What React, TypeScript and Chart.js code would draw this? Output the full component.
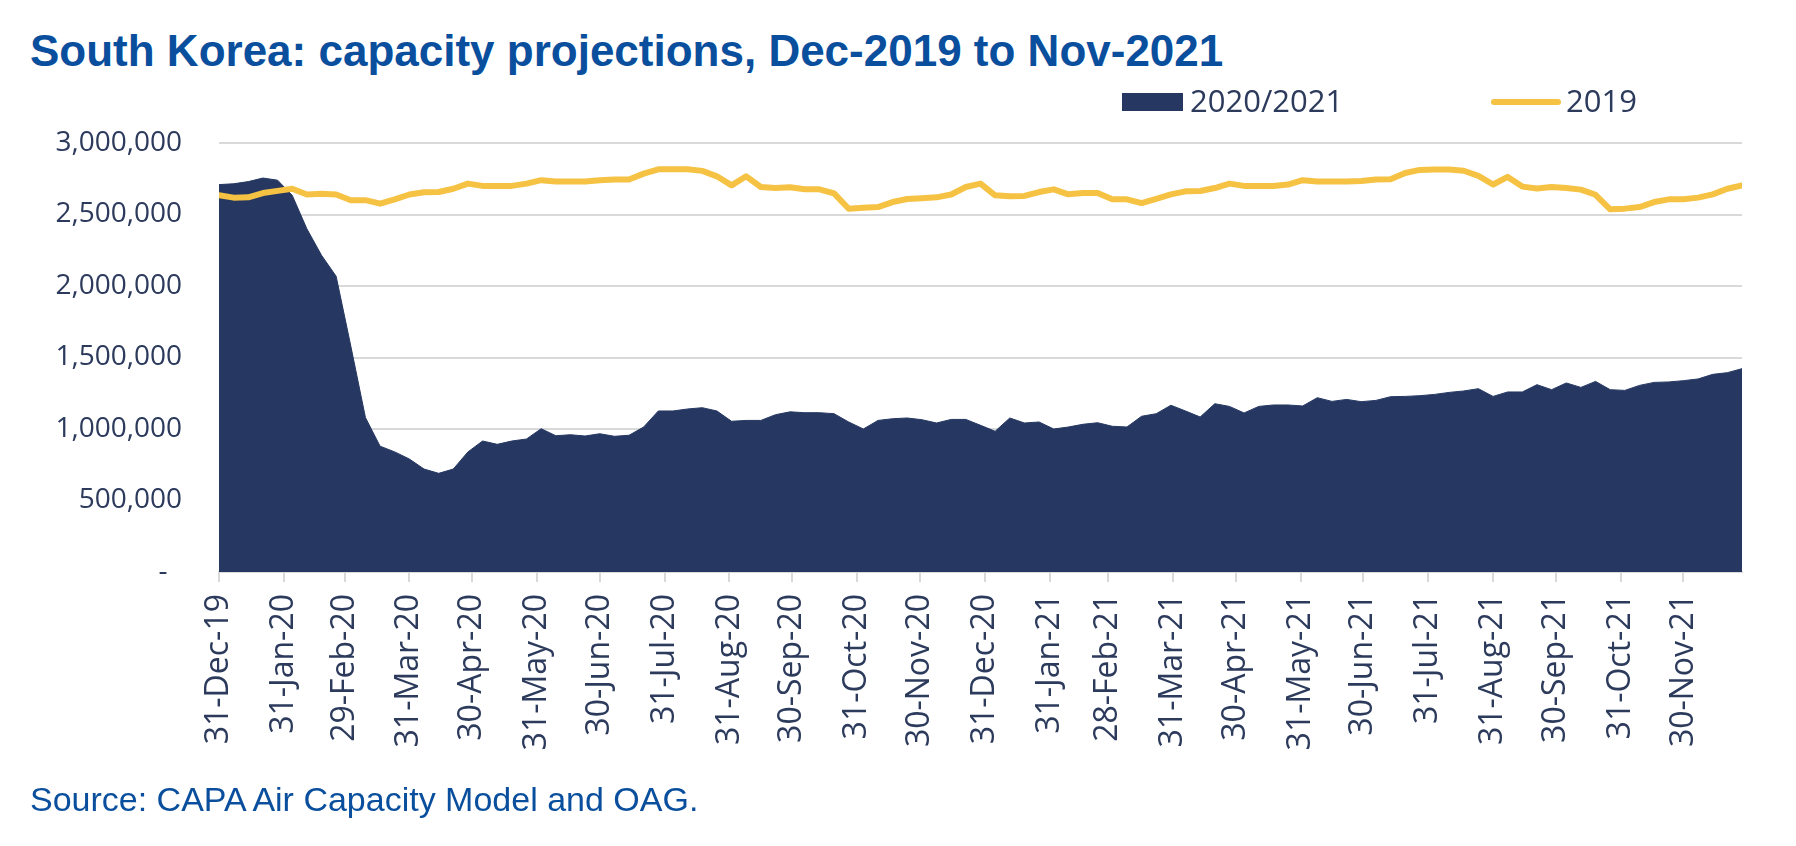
import React, { useEffect, useRef } from 'react';
import { Chart, registerables } from 'chart.js';

Chart.register(...registerables);

// ---------------- data ----------------
const START_LABEL = '31-Dec-19';
const DAYS_BETWEEN_POINTS = 7;

const seriesLabels = ['2020/2021', '2019'];

const capacity2020_21 = [
  2709000, 2715000, 2730000, 2755000, 2740000, 2634000, 2400000, 2215000, 2068000, 1580000,
  1080000, 880000, 840000, 790000, 720000, 690000, 720000, 840000, 916000, 893000,
  916000, 930000, 1002000, 953000, 960000, 951000, 967000, 949000, 956000, 1014000,
  1126000, 1126000, 1140000, 1149000, 1126000, 1054000, 1060000, 1060000, 1100000, 1120000,
  1114000, 1114000, 1107000, 1049000, 1000000, 1060000, 1072000, 1077000, 1065000, 1042000,
  1067000, 1067000, 1026000, 984000, 1077000, 1042000, 1049000, 1000000, 1014000, 1033000,
  1044000, 1019000, 1014000, 1089000, 1107000, 1166000, 1126000, 1084000, 1177000, 1158000,
  1112000, 1158000, 1168000, 1168000, 1161000, 1219000, 1193000, 1207000, 1191000, 1200000,
  1226000, 1228000, 1233000, 1242000, 1256000, 1266000, 1282000, 1228000, 1259000, 1259000,
  1310000, 1275000, 1322000, 1291000, 1333000, 1275000, 1270000, 1305000, 1326000, 1329000,
  1338000, 1350000, 1382000, 1394000, 1422000,
];

const capacity2019 = [
  2634000, 2618000, 2620000, 2650000, 2665000, 2680000, 2640000, 2645000, 2640000, 2600000,
  2600000, 2576000, 2606000, 2640000, 2655000, 2657000, 2680000, 2716000, 2700000, 2700000,
  2700000, 2716000, 2740000, 2730000, 2730000, 2730000, 2740000, 2745000, 2745000, 2786000,
  2816000, 2816000, 2816000, 2805000, 2767000, 2704000, 2767000, 2692000, 2685000, 2690000,
  2676000, 2676000, 2648000, 2540000, 2548000, 2552000, 2587000, 2608000, 2613000, 2620000,
  2640000, 2692000, 2716000, 2634000, 2627000, 2630000, 2657000, 2676000, 2641000, 2650000,
  2650000, 2606000, 2606000, 2580000, 2610000, 2641000, 2662000, 2664000, 2685000, 2716000,
  2700000, 2700000, 2700000, 2709000, 2740000, 2730000, 2730000, 2730000, 2735000, 2745000,
  2746000, 2790000, 2812000, 2814000, 2814000, 2806000, 2770000, 2710000, 2763000, 2695000,
  2682000, 2692000, 2685000, 2674000, 2638000, 2536000, 2541000, 2552000, 2587000, 2606000,
  2606000, 2618000, 2641000, 2680000, 2704000,
];

const xTickLabels = [
  '31-Dec-19', '31-Jan-20', '29-Feb-20', '31-Mar-20', '30-Apr-20', '31-May-20',
  '30-Jun-20', '31-Jul-20', '31-Aug-20', '30-Sep-20', '31-Oct-20', '30-Nov-20',
  '31-Dec-20', '31-Jan-21', '28-Feb-21', '31-Mar-21', '30-Apr-21', '31-May-21',
  '30-Jun-21', '31-Jul-21', '31-Aug-21', '30-Sep-21', '31-Oct-21', '30-Nov-21',
];

const yTickValues = [0, 500000, 1000000, 1500000, 2000000, 2500000, 3000000];
const yTickLabels = ['-  ', '500,000', '1,000,000', '1,500,000', '2,000,000', '2,500,000', '3,000,000'];

// ---------------- styling ----------------
const NAVY = '#263862';
const YELLOW = '#f5c243';
const GRID = '#d9d9d9';
const LABEL = '#2c3a5c';
const BLUE = '#0a4f9d';
const AXIS_FONT = "'Open Sans', 'DejaVu Sans', sans-serif";

const W = 1796;
const H = 846;
const PLOT_LEFT = 219;
const PLOT_RIGHT = 1742;
const PLOT_TOP = 143;
const PLOT_BOTTOM = 572;

const MONTHS: Record<string, number> = {
  Jan: 0, Feb: 1, Mar: 2, Apr: 3, May: 4, Jun: 5, Jul: 6, Aug: 7, Sep: 8, Oct: 9, Nov: 10, Dec: 11,
};
function parseLabel(s: string): number {
  const [d, m, y] = s.split('-');
  return Date.UTC(2000 + Number(y), MONTHS[m], Number(d));
}
const START_MS = parseLabel(START_LABEL);
const dayOf = (s: string) => Math.round((parseLabel(s) - START_MS) / 86400000);
const xTickDays = xTickLabels.map(dayOf);
const labelByDay = new Map<number, string>(xTickDays.map((d, i) => [d, xTickLabels[i]]));
const yLabelByValue = new Map<number, string>(yTickValues.map((v, i) => [v, yTickLabels[i]]));

const toPoints = (arr: number[]) => arr.map((v, i) => ({ x: i * DAYS_BETWEEN_POINTS, y: v }));
const X_MAX = (capacity2020_21.length - 1) * DAYS_BETWEEN_POINTS;

// custom legend (rect for area, line for 2019)
const legendPlugin = {
  id: 'customLegend',
  afterDraw(chart: any) {
    const ctx = chart.ctx as CanvasRenderingContext2D;
    const ds = chart.data.datasets;
    const cy = 102;
    ctx.save();
    ctx.font = `31px ${AXIS_FONT}`;
    ctx.textBaseline = 'middle';
    ctx.textAlign = 'left';
    // area item
    const area = ds[1];
    ctx.fillStyle = area.backgroundColor;
    ctx.fillRect(1122, cy - 9, 61, 18);
    ctx.fillStyle = LABEL;
    ctx.fillText(area.label, 1190, cy + 1);
    // line item
    const line = ds[0];
    ctx.strokeStyle = line.borderColor;
    ctx.lineWidth = 6;
    ctx.lineCap = 'round';
    ctx.beginPath();
    ctx.moveTo(1494, cy);
    ctx.lineTo(1558, cy);
    ctx.stroke();
    ctx.fillStyle = LABEL;
    ctx.fillText(line.label, 1566, cy + 1);
    ctx.restore();
  },
};

export default function App() {
  const canvasRef = useRef<HTMLCanvasElement | null>(null);

  useEffect(() => {
    const canvas = canvasRef.current;
    if (!canvas) return;
    const chart = new Chart(canvas, {
      type: 'line',
      data: {
        datasets: [
          {
            label: seriesLabels[1],
            data: toPoints(capacity2019),
            borderColor: YELLOW,
            backgroundColor: YELLOW,
            borderWidth: 6,
            pointRadius: 0,
            fill: false,
            tension: 0,
            borderJoinStyle: 'round',
            borderCapStyle: 'round',
            order: 0,
          },
          {
            label: seriesLabels[0],
            data: toPoints(capacity2020_21),
            borderColor: NAVY,
            backgroundColor: NAVY,
            borderWidth: 1,
            pointRadius: 0,
            fill: 'origin',
            tension: 0,
            order: 1,
          },
        ],
      } as any,
      options: {
        animation: false,
        responsive: false,
        layout: { padding: { top: PLOT_TOP, right: W - PLOT_RIGHT, left: 0, bottom: 0 } },
        plugins: {
          legend: { display: false },
          tooltip: { enabled: false },
          title: { display: false },
        },
        scales: {
          x: {
            type: 'linear',
            min: 0,
            max: X_MAX,
            afterBuildTicks: (scale: any) => {
              scale.ticks = xTickDays.map((v) => ({ value: v }));
            },
            afterFit: (scale: any) => {
              scale.height = H - PLOT_BOTTOM;
            },
            grid: {
              drawOnChartArea: false,
              drawTicks: true,
              tickLength: 10,
              color: GRID,
              lineWidth: 2,
            },
            border: { display: true, color: GRID, width: 2 },
            ticks: {
              autoSkip: false,
              minRotation: 90,
              maxRotation: 90,
              padding: 12,
              color: LABEL,
              font: { family: AXIS_FONT, size: 32 },
              callback: (v: any) => labelByDay.get(Number(v)) ?? '',
            },
          },
          y: {
            min: 0,
            max: 3000000,
            afterBuildTicks: (scale: any) => {
              scale.ticks = yTickValues.map((v) => ({ value: v }));
            },
            afterFit: (scale: any) => {
              scale.width = PLOT_LEFT;
            },
            grid: { color: GRID, lineWidth: 2, drawTicks: false },
            border: { display: false },
            ticks: {
              padding: 37,
              color: LABEL,
              font: { family: AXIS_FONT, size: 28 },
              callback: (v: any) => yLabelByValue.get(Number(v)) ?? '',
            },
          },
        },
      } as any,
      plugins: [legendPlugin],
    });
    return () => chart.destroy();
  }, []);

  return (
    <div style={{ position: 'absolute', left: 0, top: 0, width: W, height: H, background: '#ffffff', overflow: 'hidden' }}>
      <div
        style={{
          position: 'absolute',
          left: 30,
          top: 29,
          fontFamily: "'Liberation Sans', Arial, sans-serif",
          fontWeight: 700,
          fontSize: 44,
          lineHeight: 1,
          color: BLUE,
          whiteSpace: 'nowrap',
        }}
      >
        South Korea: capacity projections, Dec-2019 to Nov-2021
      </div>
      <canvas ref={canvasRef} width={W} height={H} style={{ position: 'absolute', left: 0, top: 0, width: W, height: H }} />
      <div
        style={{
          position: 'absolute',
          left: 30,
          top: 782,
          fontFamily: "'Liberation Sans', Arial, sans-serif",
          fontSize: 34,
          lineHeight: 1,
          color: BLUE,
          whiteSpace: 'nowrap',
        }}
      >
        Source: CAPA Air Capacity Model and OAG.
      </div>
    </div>
  );
}
